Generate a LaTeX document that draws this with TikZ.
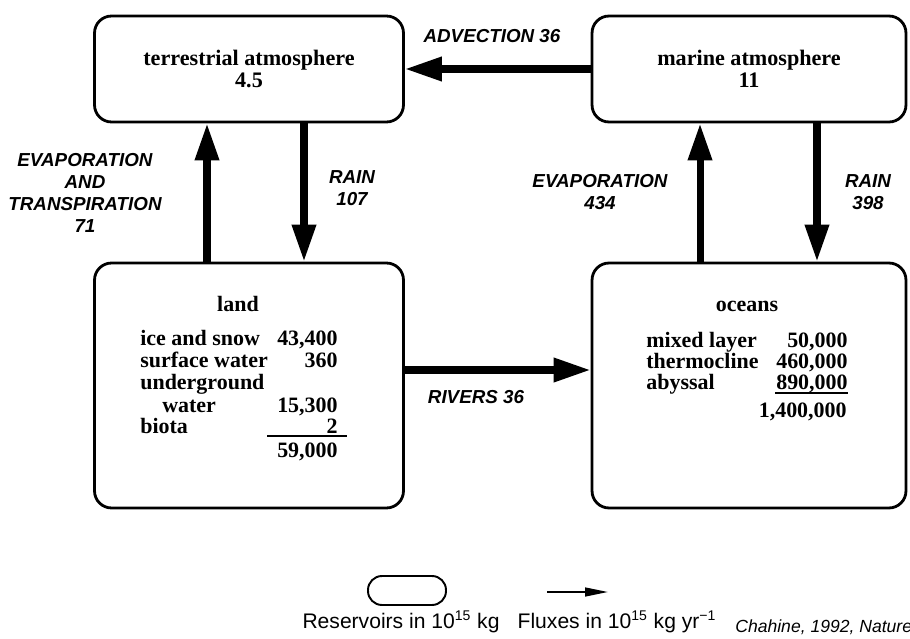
\documentclass[tikz,border=0pt]{standalone}
\usepackage{fontspec}
\setmainfont{Liberation Serif}
\setsansfont{Liberation Sans}
\usetikzlibrary{arrows.meta}
\colorlet{boxblack}{black}

\begin{document}
\begin{tikzpicture}[x=0.02cm,y=-0.02cm,
    reservoir/.style={draw=boxblack, line width=1.6pt, rounded corners=0.34cm, inner sep=0pt, align=center,
        font=\fontsize{12.6}{12.8}\selectfont\bfseries},
    flux/.style={boxblack, line width=4pt, -{Triangle[length=21pt,width=13pt]}},
    fluxlabel/.style={align=center, inner sep=0pt, font=\sffamily\bfseries\itshape\fontsize{10.7}{12.5}\selectfont},
    entry/.style={anchor=base west, inner sep=0pt, font=\fontsize{12.5}{12.6}\selectfont\bfseries},
    amount/.style={anchor=base east, inner sep=0pt, font=\fontsize{12.5}{12.6}\selectfont\bfseries},
    legendtext/.style={anchor=base, inner sep=0pt, font=\sffamily\fontsize{12}{14}\selectfont}]
    \useasboundingbox (0,0) rectangle (910,639);

    \node[reservoir, minimum width=6.18cm, minimum height=2.12cm] (terr) at (249,69) {terrestrial atmosphere\\4.5};
    \node[reservoir, minimum width=6.28cm, minimum height=2.12cm] (mar) at (749,69) {marine atmosphere\\11};
    \node[reservoir, minimum width=6.18cm, minimum height=4.9cm] (land) at (249,385.5) {};
    \node[reservoir, minimum width=6.28cm, minimum height=4.9cm] (ocean) at (749,385.5) {};

    \node[entry, anchor=base] (landname) at (238,311) {land};
    \foreach \y/\name/\val in {345/{ice and snow}/{43,400}, 367/{surface water}/{360}, 389/{underground}/{},
        412/{\hspace*{1em}water}/{15,300}, 433/{biota}/{2}}{
        \node[entry] at (140,\y) {\name};
        \node[amount] at (338,\y) {\val};
    }
    \draw[line width=0.9pt] (267,436) -- (347,436);
    \node[amount] (landsum) at (338,457) {59,000};

    \node[entry, anchor=base] (oceanname) at (747,311) {oceans};
    \foreach \y/\name/\val in {347/{mixed layer}/{50,000}, 368/{thermocline}/{460,000}, 389/{abyssal}/{890,000}}{
        \node[entry] at (646,\y) {\name};
        \node[amount] at (848,\y) {\val};
    }
    \draw[line width=0.9pt] (775,393) -- (848,393);
    \node[amount] (oceansum) at (847,417) {1,400,000};

    \draw[flux] (mar.west) -- (terr.east);
    \draw[flux] ([xshift=-0.84cm]land.north) -- ([xshift=-0.84cm]terr.south);
    \draw[flux] ([xshift=1.1cm]terr.south) -- ([xshift=1.1cm]land.north);
    \draw[flux] ([xshift=-0.98cm]ocean.north) -- ([xshift=-0.98cm]mar.south);
    \draw[flux] ([xshift=1.36cm]mar.south) -- ([xshift=1.36cm]ocean.north);
    \draw[flux] ([yshift=0.31cm]land.east) -- ([yshift=0.31cm]ocean.west);

    \node[fluxlabel] (advlabel) at (492,36) {ADVECTION 36};
    \node[fluxlabel] (evaplabel) at (85,193) {EVAPORATION\\AND\\TRANSPIRATION\\71};
    \node[fluxlabel] (rainlabel) at (352,188) {RAIN\\107};
    \node[fluxlabel] (oevaplabel) at (600,192) {EVAPORATION\\434};
    \node[fluxlabel] (orainlabel) at (868,192) {RAIN\\398};
    \node[fluxlabel] (riverlabel) at (476,397) {RIVERS 36};

    \node[draw=boxblack, line width=1.1pt, rounded corners=0.28cm, minimum width=1.56cm, minimum height=0.58cm] (resbox) at (407,590.5) {};
    \coordinate (fluxA) at (547,592);
    \coordinate (fluxB) at (608,592);
    \draw[line width=1.1pt, -{Triangle[length=13pt,width=5pt]}] (fluxA) -- (fluxB);
    \node[legendtext] (reslabel) at (401,628) {Reservoirs in 10\textsuperscript{15} kg};
    \node[legendtext] (fluxlabeltext) at (617,628) {Fluxes in 10\textsuperscript{15} kg yr\textsuperscript{−1}};
    \node[anchor=base west, inner sep=0pt, font=\sffamily\itshape\fontsize{10}{12}\selectfont] (source) at (735,632) {Chahine, 1992, Nature};
\end{tikzpicture}
\end{document}
